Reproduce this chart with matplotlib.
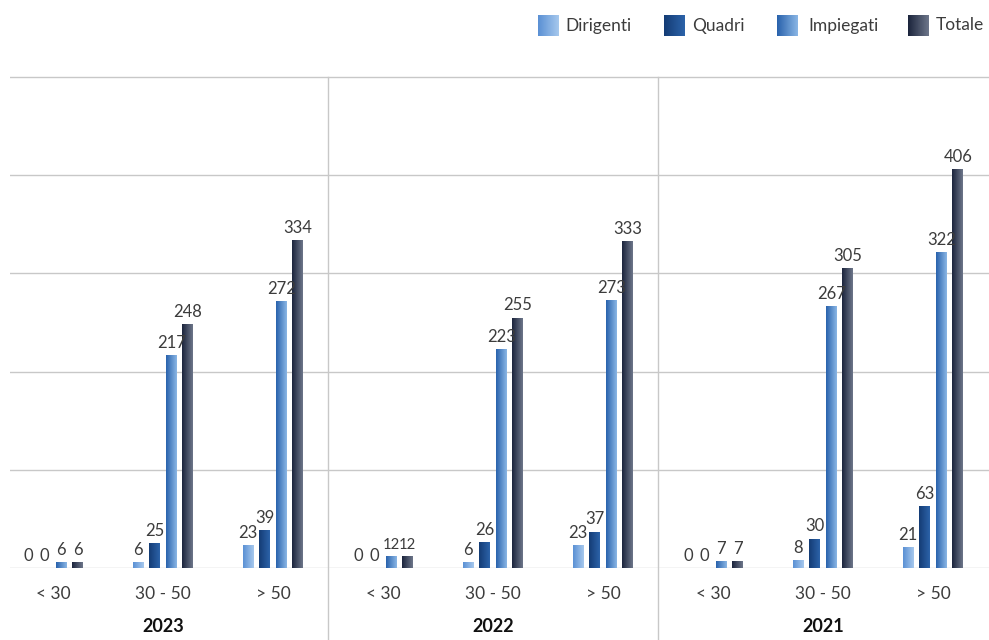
import numpy as np
import matplotlib
matplotlib.use("Agg")
import matplotlib.pyplot as plt
from matplotlib.colors import LinearSegmentedColormap

plt.rcParams['font.family'] = ['Lato', 'DejaVu Sans']

years = ["2023", "2022", "2021"]
age_groups = ["< 30", "30 - 50", "> 50"]
series = ["Dirigenti", "Quadri", "Impiegati", "Totale"]

dirigenti = [0, 6, 23, 0, 6, 23, 0, 8, 21]
quadri = [0, 25, 39, 0, 26, 37, 0, 30, 63]
impiegati = [6, 217, 272, 12, 223, 273, 7, 267, 322]
totale = [6, 248, 334, 12, 255, 333, 7, 305, 406]
values = [dirigenti, quadri, impiegati, totale]

gradients = [("#5a90d4", "#a6c8ed"),
             ("#143c75", "#2c63a9"),
             ("#2962ac", "#8ab6e5"),
             ("#1b243c", "#6d768a")]

W, H = 989, 640
fig = plt.figure(figsize=(W / 100, H / 100), dpi=100)

ax_left, ax_right = 10, 989
ax_bottom, ax_top = 568, 70
ax = fig.add_axes([ax_left / W, 1 - ax_bottom / H, (ax_right - ax_left) / W, (ax_bottom - ax_top) / H])

px_per_cat = 110.0
first_center = 53.0
x0 = (ax_left - first_center) / px_per_cat
x1 = (ax_right - first_center) / px_per_cat
ax.set_xlim(x0, x1)
ax.set_ylim(0, 500 * (ax_bottom - ax_top) / (568 - 77))

for s in ax.spines.values():
    s.set_visible(False)
ax.set_xticks([])
ax.set_yticks([])
for yv in [0, 100, 200, 300, 400, 500]:
    ax.axhline(yv, color="#c8c8c8", lw=1.0, zorder=0)

txtcol = "#3c3c3c"
n = len(dirigenti)
xs = np.arange(n)
pitch = 0.15
width = 0.10
grad = np.linspace(0, 1, 64).reshape(1, -1)
labels = [[None] * 4 for _ in range(n)]
for si, (name, vals) in enumerate(zip(series, values)):
    cmap = LinearSegmentedColormap.from_list(name, gradients[si])
    offs = (si - 1.5) * pitch
    bars = ax.bar(xs + offs, vals, width=width, color=gradients[si][1], zorder=2)
    for ci, (b, v) in enumerate(zip(bars, vals)):
        if v > 0:
            bx, by = b.get_x(), b.get_y()
            im = ax.imshow(grad, cmap=cmap, aspect='auto', zorder=3,
                           extent=[bx, bx + b.get_width(), by, by + b.get_height()])
            im.set_clip_path(b)
        labels[ci][si] = ax.annotate(str(v), (b.get_x() + b.get_width() / 2, v), xytext=(0, 3),
                                     textcoords="offset points", ha="center", va="bottom",
                                     fontsize=12, color=txtcol, zorder=4)
ax.set_xlim(x0, x1)

# shrink neighbouring value labels only when they truly collide
fig.canvas.draw()
r = fig.canvas.get_renderer()
for ci in range(n):
    for si in range(3):
        a, b = labels[ci][si], labels[ci][si + 1]
        for _ in range(16):
            ba, bb = a.get_window_extent(r), b.get_window_extent(r)
            if ba.x1 <= bb.x0 + 1 or ba.y1 < bb.y0 + 3 or bb.y1 < ba.y0 + 3:
                break
            a.set_fontsize(a.get_fontsize() - 0.25)
            b.set_fontsize(b.get_fontsize() - 0.25)

# category labels and year labels
for i in range(n):
    ax.text(i, -26 * 500 / 491, age_groups[i % 3], ha="center", va="center",
            fontsize=12.5, color=txtcol)
for g, yr in enumerate(years):
    ax.text(3 * g + 1, -59 * 500 / 491, yr, ha="center", va="center",
            fontsize=13, color="#111111", fontweight="bold")

# separators
for g in [1, 2]:
    xp = 3 * g - 0.5
    ax.plot([xp, xp], [500, -75 * 500 / 491], color="#c8c8c8", lw=1.0,
            clip_on=False, zorder=0)

# legend
leg_items = [(538, 565), (664, 692), (777, 808), (908, 936)]
for si, (px, tx) in enumerate(leg_items):
    cmap = LinearSegmentedColormap.from_list("l%d" % si, gradients[si])
    lax = fig.add_axes([px / W, 1 - 36 / H, 21 / W, 21 / H])
    lax.imshow(grad, cmap=cmap, aspect='auto')
    lax.axis("off")
    fig.text(tx / W, 1 - 25.5 / H, series[si], ha="left", va="center",
             fontsize=12.5, color=txtcol)

fig.savefig("out.png", dpi=100)
